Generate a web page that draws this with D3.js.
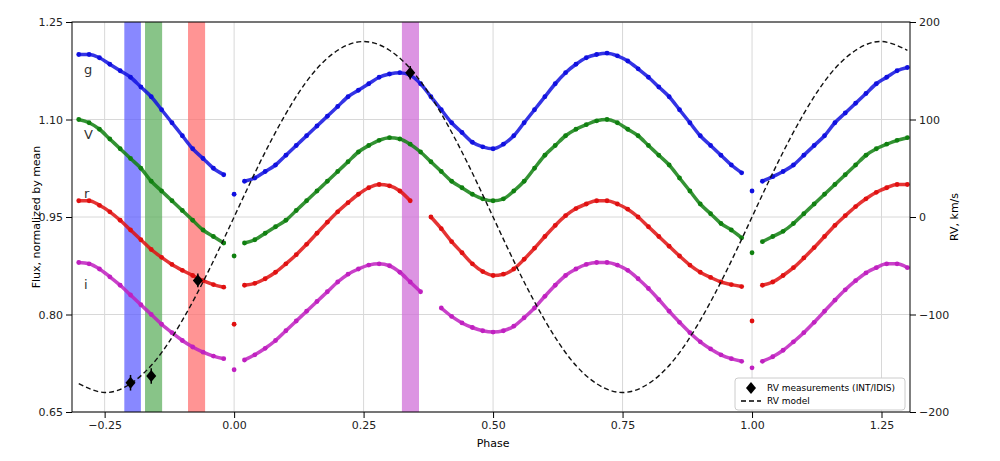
<!DOCTYPE html>
<html lang="en">
<head>
  <meta charset="UTF-8">
  <script src="https://d3js.org/d3.v7.min.js"></script>
  <style>
    body { margin: 0; background: #fff; }
    text { font-family: "DejaVu Sans", sans-serif; }
    .tick text { font-size: 11px; fill: #222; }
  </style>
</head>
<body>
<script>
  const w = 1000, h = 461;
  const margin = { left: 72, right: 90, top: 22, bottom: 49 };

  // light curves, sampled every 0.02 in phase
  const phase = d3.range(81).map(i => +(-0.30 + i * 0.02).toFixed(2));
  const gFlux = [1.200,1.200,1.195,1.185,1.175,1.165,1.150,1.135,1.115,1.095,1.075,1.055,1.040,1.025,1.015,0.985,1.005,1.010,1.020,1.030,1.045,1.060,1.075,1.090,1.105,1.120,1.135,1.145,1.155,1.165,1.170,1.172,1.168,1.155,1.135,1.115,1.095,1.080,1.065,1.058,1.055,1.062,1.075,1.095,1.115,1.135,1.155,1.172,1.185,1.195,1.200,1.202,1.198,1.190,1.178,1.165,1.150,1.135,1.115,1.095,1.075,1.060,1.045,1.030,1.018,0.990,1.005,1.012,1.020,1.030,1.045,1.060,1.075,1.095,1.110,1.125,1.140,1.155,1.165,1.175,1.180];
  const vFlux = [1.100,1.095,1.085,1.070,1.055,1.040,1.025,1.005,0.990,0.975,0.960,0.945,0.930,0.920,0.910,0.890,0.910,0.915,0.925,0.935,0.945,0.960,0.975,0.990,1.005,1.020,1.035,1.050,1.060,1.068,1.072,1.070,1.062,1.050,1.035,1.020,1.005,0.995,0.985,0.978,0.975,0.978,0.990,1.005,1.025,1.045,1.060,1.075,1.085,1.092,1.098,1.100,1.095,1.085,1.075,1.060,1.045,1.030,1.010,0.990,0.970,0.955,0.940,0.930,0.918,0.895,0.912,0.920,0.928,0.940,0.955,0.970,0.985,1.000,1.015,1.030,1.045,1.055,1.062,1.068,1.072];
  const rFlux = [0.975,0.975,0.968,0.958,0.945,0.930,0.915,0.900,0.888,0.877,0.868,0.860,0.852,0.846,0.842,0.785,0.845,0.848,0.855,0.865,0.878,0.892,0.908,0.925,0.942,0.958,0.972,0.985,0.995,1.000,0.998,0.990,0.975,null,0.950,0.932,0.912,0.895,0.878,0.866,0.860,0.862,0.870,0.885,0.902,0.920,0.937,0.952,0.963,0.970,0.975,0.975,0.970,0.962,0.950,0.935,0.920,0.905,0.890,0.876,0.865,0.857,0.850,0.846,0.843,0.790,0.845,0.850,0.860,0.872,0.887,0.903,0.920,0.937,0.952,0.966,0.978,0.988,0.995,1.000,1.000];
  const iFlux = [0.880,0.878,0.870,0.858,0.845,0.830,0.815,0.800,0.785,0.772,0.760,0.750,0.742,0.736,0.732,0.715,0.730,0.738,0.748,0.760,0.775,0.790,0.805,0.820,0.835,0.850,0.862,0.870,0.876,0.878,0.875,0.865,0.850,0.835,null,0.810,0.797,0.787,0.780,0.775,0.773,0.775,0.782,0.795,0.810,0.828,0.845,0.860,0.870,0.877,0.880,0.880,0.876,0.868,0.855,0.840,0.823,0.805,0.788,0.772,0.758,0.747,0.738,0.732,0.728,0.718,0.728,0.735,0.745,0.758,0.772,0.788,0.805,0.822,0.838,0.852,0.864,0.872,0.878,0.878,0.872];
  const bands = [
    { name: "g", values: gFlux, color: "#1010e0", labelY: 1.17 },
    { name: "V", values: vFlux, color: "#108010", labelY: 1.07 },
    { name: "r", values: rFlux, color: "#e01010", labelY: 0.98 },
    { name: "i", values: iFlux, color: "#c020c0", labelY: 0.84 }
  ];
  // eclipse-like drops shown as isolated points, not joined to the curve
  const dropPhases = [0.00, 1.00];

  // RV model and measurements
  const rvPhase = d3.range(33).map(i => +(-0.30 + i * 0.05).toFixed(2));
  const rvModel = [-171,-180,-171,-146,-106,-56,0,56,106,146,171,180,171,146,106,56,0,-56,-106,-146,-171,-180,-171,-146,-106,-56,0,56,106,146,171,180,171];
  const rvObsPhase = [-0.20, -0.16, -0.07, 0.34];
  const rvObs = [-170, -163, -65, 148];
  const rvErr = [8, 8, 7, 7];

  // observation windows
  const spans = [
    { x0: -0.212, x1: -0.180, color: "#6060ff" },
    { x0: -0.172, x1: -0.139, color: "#60b060" },
    { x0: -0.089, x1: -0.056, color: "#ff7070" },
    { x0: 0.324, x1: 0.357, color: "#d070d8" }
  ];

  const xTicks = [-0.25, 0, 0.25, 0.5, 0.75, 1.0, 1.25];
  const yTicks = [0.65, 0.80, 0.95, 1.10, 1.25];
  const rvTicks = [-200, -100, 0, 100, 200];

  const svg = d3.select("body").append("svg").attr("width", w).attr("height", h);
  const x = d3.scaleLinear().domain([-0.313, 1.305]).range([margin.left, w - margin.right]);
  const y = d3.scaleLinear().domain([0.65, 1.25]).range([h - margin.bottom, margin.top]);
  const yRv = d3.scaleLinear().domain([-200, 200]).range([h - margin.bottom, margin.top]);

  // grid
  svg.append("g").selectAll("line").data(xTicks).join("line")
    .attr("x1", d => x(d)).attr("x2", d => x(d))
    .attr("y1", margin.top).attr("y2", h - margin.bottom)
    .attr("stroke", "#d8d8d8");
  svg.append("g").selectAll("line").data(yTicks).join("line")
    .attr("x1", margin.left).attr("x2", w - margin.right)
    .attr("y1", d => y(d)).attr("y2", d => y(d))
    .attr("stroke", "#d8d8d8");

  svg.selectAll("rect.span").data(spans).join("rect")
    .attr("x", d => x(d.x0)).attr("width", d => x(d.x1) - x(d.x0))
    .attr("y", margin.top).attr("height", h - margin.top - margin.bottom)
    .attr("fill", d => d.color).attr("opacity", 0.75);

  // light curves
  const fluxLine = d3.line()
    .defined(d => d[1] != null && dropPhases.indexOf(d[0]) < 0)
    .x(d => x(d[0])).y(d => y(d[1])).curve(d3.curveMonotoneX);
  bands.forEach(b => {
    const pts = phase.map((p, i) => [p, b.values[i]]);
    svg.append("path").datum(pts).attr("d", fluxLine)
      .attr("fill", "none").attr("stroke", b.color).attr("stroke-width", 3.5).attr("opacity", 0.85);
    svg.append("g").selectAll("circle").data(pts.filter(d => d[1] != null)).join("circle")
      .attr("cx", d => x(d[0])).attr("cy", d => y(d[1])).attr("r", 2.4).attr("fill", b.color);
    svg.append("text").attr("x", 84).attr("y", y(b.labelY)).attr("font-size", 13).attr("fill", "#333").text(b.name);
  });

  // RV model
  svg.append("path")
    .datum(rvPhase.map((p, i) => [p, rvModel[i]]))
    .attr("d", d3.line().x(d => x(d[0])).y(d => yRv(d[1])).curve(d3.curveNatural))
    .attr("fill", "none").attr("stroke", "#111").attr("stroke-width", 1.4).attr("stroke-dasharray", "5,3");

  const obs = rvObsPhase.map((p, i) => ({ p: p, v: rvObs[i], e: rvErr[i] }));
  const diamond = "M0,-6L5,0L0,6L-5,0Z";
  svg.append("g").selectAll("line").data(obs).join("line")
    .attr("x1", d => x(d.p)).attr("x2", d => x(d.p))
    .attr("y1", d => yRv(d.v - d.e)).attr("y2", d => yRv(d.v + d.e))
    .attr("stroke", "#000").attr("stroke-width", 1.5);
  svg.append("g").selectAll("path").data(obs).join("path")
    .attr("d", diamond)
    .attr("transform", d => "translate(" + x(d.p) + "," + yRv(d.v) + ")")
    .attr("fill", "#000");

  // frame + axes
  svg.append("rect").attr("x", margin.left).attr("y", margin.top)
    .attr("width", w - margin.left - margin.right).attr("height", h - margin.top - margin.bottom)
    .attr("fill", "none").attr("stroke", "#000");
  svg.append("g").attr("transform", "translate(0," + (h - margin.bottom) + ")")
    .call(d3.axisBottom(x).tickValues(xTicks).tickFormat(d3.format(".2f")).tickSizeOuter(0))
    .call(g => g.select(".domain").remove());
  svg.append("g").attr("transform", "translate(" + margin.left + ",0)")
    .call(d3.axisLeft(y).tickValues(yTicks).tickFormat(d3.format(".2f")).tickSizeOuter(0))
    .call(g => g.select(".domain").remove());
  svg.append("g").attr("transform", "translate(" + (w - margin.right) + ",0)")
    .call(d3.axisRight(yRv).tickValues(rvTicks).tickSizeOuter(0))
    .call(g => g.select(".domain").remove());

  svg.append("text").attr("x", x(0.5)).attr("y", h - 14).attr("text-anchor", "middle").attr("font-size", 11).text("Phase");
  svg.append("text").attr("transform", "translate(40," + y(0.95) + ") rotate(-90)")
    .attr("text-anchor", "middle").attr("font-size", 11).text("Flux, normalized by mean");
  svg.append("text").attr("transform", "translate(958," + yRv(0) + ") rotate(-90)")
    .attr("text-anchor", "middle").attr("font-size", 11).text("RV, km/s");

  // legend
  const lg = svg.append("g").attr("transform", "translate(735,378)");
  lg.append("rect").attr("width", 170).attr("height", 32).attr("rx", 3)
    .attr("fill", "#fff").attr("stroke", "#ccc");
  lg.append("path").attr("d", diamond).attr("transform", "translate(16,10)");
  lg.append("text").attr("x", 32).attr("y", 13).attr("font-size", 9).text("RV measurements (INT/IDIS)");
  lg.append("line").attr("x1", 6).attr("x2", 26).attr("y1", 23).attr("y2", 23)
    .attr("stroke", "#000").attr("stroke-width", 1.4).attr("stroke-dasharray", "5,3");
  lg.append("text").attr("x", 32).attr("y", 26).attr("font-size", 9).text("RV model");
</script>
</body>
</html>
